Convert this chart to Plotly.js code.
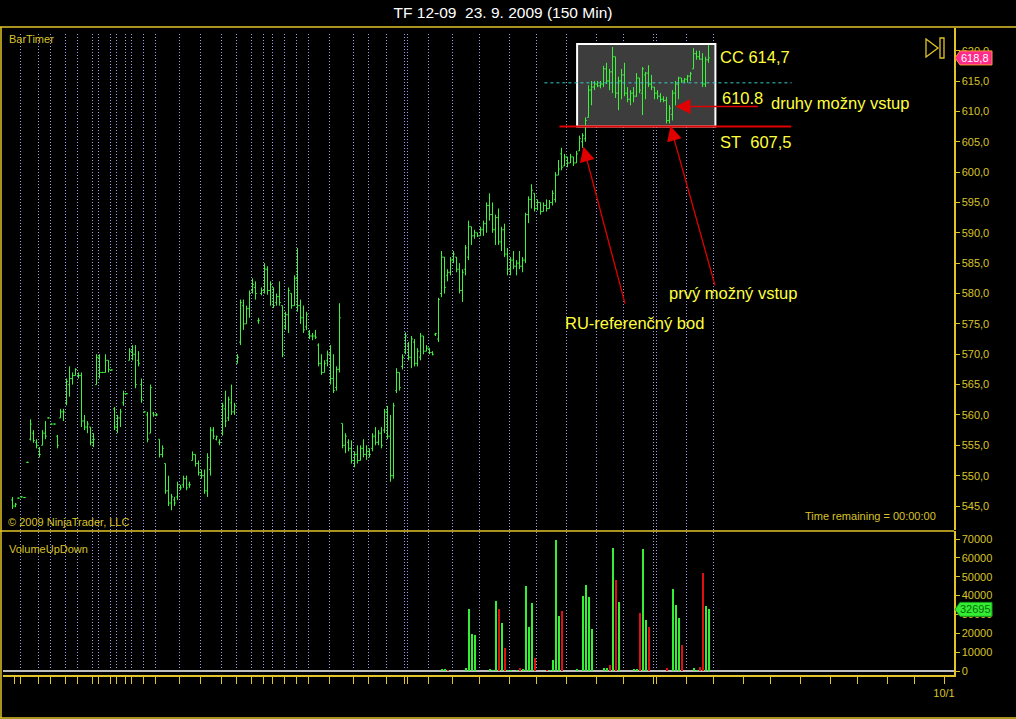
<!DOCTYPE html>
<html><head><meta charset="utf-8">
<script src="https://cdn.plot.ly/plotly-3.0.1.min.js"></script>
<style>html,body{margin:0;padding:0;background:#000;}#chart{width:1016px;height:719px;}</style>
</head><body><div id="chart"></div>
<script>
// ---------- DATA (150-min bars, TF 12-09) ----------
const openPx = [
546.0,545.0,546.3,546.5,546.4,552.2,556.0,557.0,555.5,554.5,
555.0,557.0,559.5,558.5,558.5,556.5,559.5,560.5,562.0,565.0,
566.0,566.5,566.5,566.5,559.0,558.0,558.0,555.5,565.0,569.5,
567.0,567.0,569.0,567.4,561.0,558.0,559.5,562.0,563.5,569.0,
570.5,570.0,569.0,565.0,560.5,560.0,557.0,560.3,560.0,556.0,
553.5,552.0,547.5,545.5,546.0,546.5,548.0,548.5,549.5,548.5,
552.5,553.5,552.0,550.5,550.0,547.5,551.0,557.5,556.0,555.5,
557.0,561.0,559.5,562.0,560.5,568.5,572.0,578.0,575.0,577.5,
580.5,581.0,575.5,580.0,580.5,584.0,580.5,581.0,578.5,579.5,
578.0,574.5,576.5,580.0,578.0,582.5,578.0,576.0,574.5,573.5,
573.0,573.0,571.5,568.5,567.0,569.0,570.0,566.0,564.5,567.5,
558.6,555.0,555.5,554.5,552.5,553.5,552.5,554.5,553.5,554.0,
554.5,556.5,555.5,557.0,557.5,560.5,556.5,550.0,564.0,567.0,
568.0,570.5,571.5,569.5,572.0,568.5,569.5,573.0,570.5,571.0,
570.3,573.3,572.5,580.0,586.0,583.0,583.5,585.5,586.0,584.0,
580.5,584.0,586.0,591.0,589.5,590.0,589.5,590.5,591.5,594.5,
593.0,590.5,592.5,588.5,590.5,586.5,584.0,585.5,584.5,585.0,
584.5,585.5,593.0,595.5,596.5,594.0,595.0,593.5,594.5,594.0,
595.0,595.5,599.5,603.0,601.0,602.5,601.5,602.5,601.5,603.5,
605.0,605.5,609.0,613.5,614.0,614.5,614.2,614.5,617.0,615.0,
616.5,619.0,613.0,615.0,616.0,613.0,612.0,613.0,612.5,615.5,
613.0,616.0,616.3,614.5,614.0,613.0,612.5,612.0,611.8,608.5,
609.5,613.0,614.5,615.5,615.0,615.3,615.8,617.0,619.5,619.0,
618.6,614.5,618.5];
const highPx = [
546.5,545.5,546.4,546.6,546.5,552.3,559.3,557.5,556.0,554.7,
557.5,559.0,559.6,558.6,558.6,556.7,561.0,561.0,566.0,568.0,
567.0,567.7,567.0,567.0,560.0,559.0,558.0,557.0,570.0,570.0,
567.1,570.0,569.0,567.5,561.3,560.0,561.0,564.0,563.6,571.0,
571.5,571.5,570.5,566.0,560.6,560.5,565.0,560.5,560.3,556.0,
555.0,552.0,550.0,547.0,546.5,549.0,548.5,550.0,550.0,549.0,
554.0,553.5,552.5,551.0,551.0,553.7,558.0,558.0,556.6,556.0,
562.0,564.0,563.0,565.0,562.0,570.0,579.0,579.0,578.0,580.5,
582.5,582.0,576.0,581.0,585.0,584.5,582.0,581.0,580.0,582.0,
578.0,577.0,581.0,580.0,583.0,587.5,579.0,578.0,577.0,574.0,
573.5,574.0,571.8,570.0,569.0,570.6,571.5,570.0,568.0,578.4,
558.6,557.0,556.0,555.8,554.0,555.0,555.0,556.0,555.0,554.5,
557.0,558.0,557.5,558.0,561.0,561.5,560.0,562.0,567.7,567.0,
570.0,573.6,572.0,573.0,572.5,571.0,573.5,573.0,571.5,571.0,
570.5,573.5,579.3,587.0,586.0,584.0,586.0,587.0,586.0,585.0,
584.0,588.0,592.0,591.0,590.5,590.0,591.0,592.0,595.0,596.5,
595.0,593.0,594.0,591.0,591.5,587.5,586.0,587.0,585.5,587.0,
586.0,593.3,596.0,598.0,596.5,595.5,595.0,595.0,595.5,595.4,
597.0,600.0,602.0,604.0,603.0,602.5,603.0,602.5,603.5,606.0,
606.4,609.0,614.3,615.0,615.0,615.0,615.0,617.5,618.0,617.0,
620.6,619.0,615.7,617.0,618.0,614.0,613.5,614.0,616.3,615.5,
617.3,616.5,617.6,616.0,614.0,613.5,613.0,612.5,612.4,611.0,
613.5,615.0,615.7,615.5,615.5,616.0,616.5,620.4,620.0,620.0,
619.6,619.0,621.0];
const lowPx = [
544.5,544.8,546.2,546.4,546.3,552.1,555.8,555.4,554.5,553.0,
555.0,556.0,559.4,558.4,558.4,554.5,559.5,559.0,561.6,563.0,
565.0,566.5,566.0,558.0,557.5,557.0,555.0,554.7,565.0,566.0,
566.9,567.0,567.0,567.3,557.5,557.0,558.0,561.5,563.4,569.0,
569.0,564.4,568.0,562.0,560.4,555.5,557.0,559.7,559.8,553.0,
553.0,547.0,545.0,544.3,545.0,546.0,547.6,548.0,547.6,548.0,
552.5,551.5,550.0,549.5,547.0,546.5,550.0,556.0,555.8,555.0,
556.6,558.0,559.0,560.0,560.0,568.5,571.5,574.0,575.0,576.0,
580.0,579.0,575.0,579.7,580.0,579.8,578.0,577.6,578.0,578.0,
569.5,574.0,573.5,577.5,578.0,577.0,575.0,573.5,574.0,572.5,
572.3,572.5,568.0,566.6,567.0,568.0,565.0,563.6,564.0,567.0,
554.5,553.7,554.0,552.0,551.4,552.0,552.5,553.0,552.6,553.0,
554.0,555.0,555.0,554.5,557.0,556.0,549.0,549.5,563.6,564.0,
567.5,570.0,569.0,567.7,568.0,568.0,569.0,570.0,570.5,570.0,
569.8,573.0,572.0,579.4,580.0,582.0,583.0,585.0,583.5,580.0,
578.6,583.0,585.5,588.0,589.0,589.3,589.5,589.5,590.0,592.0,
590.0,588.0,588.0,587.0,586.0,583.0,583.0,584.0,583.0,584.0,
583.5,585.0,591.6,594.0,593.5,593.7,593.0,593.5,593.5,594.0,
594.5,595.0,599.5,600.3,601.0,600.8,601.5,601.0,601.5,603.5,
604.0,605.0,609.0,611.0,613.5,614.0,613.8,614.0,614.5,613.5,
613.0,612.2,610.2,612.0,612.5,611.5,611.0,611.5,612.4,613.0,
609.4,612.0,614.0,613.5,612.0,612.0,611.5,611.5,608.0,608.0,
608.5,611.0,612.0,614.7,614.7,614.7,615.0,617.0,618.5,618.5,
614.0,614.0,618.0];
const closePx = [
545.0,545.3,546.3,546.5,546.4,552.2,558.5,555.8,555.0,553.5,
557.0,556.5,559.5,558.5,558.5,555.0,560.5,560.5,565.5,566.0,
566.5,567.5,566.5,559.0,558.0,558.5,555.5,556.0,569.5,567.0,
567.0,569.0,567.5,567.4,558.0,559.5,560.5,563.5,563.5,570.5,
570.0,565.0,568.5,562.5,560.5,556.0,564.5,560.0,560.0,553.5,
554.5,547.5,545.5,546.5,545.5,548.5,548.0,549.5,548.0,548.5,
553.5,552.0,550.5,550.0,547.5,553.0,557.5,556.5,556.4,555.5,
561.5,559.0,562.5,560.5,561.5,569.5,578.5,575.0,577.5,580.0,
581.5,580.0,575.6,580.5,584.0,580.5,581.5,578.0,579.5,578.5,
570.0,576.5,580.5,578.0,582.5,578.0,576.0,574.0,576.5,573.0,
573.0,572.8,568.5,567.0,568.5,570.0,566.0,564.0,567.5,576.0,
555.0,556.5,554.5,552.5,553.5,552.5,554.5,553.5,554.0,553.5,
556.5,555.5,557.0,555.0,560.5,556.5,550.0,561.5,567.0,564.5,
569.5,573.0,569.5,572.5,568.5,570.5,573.0,570.5,571.0,570.3,
570.0,573.4,579.0,586.0,581.0,583.5,585.5,586.5,584.0,580.5,
583.5,587.5,591.0,589.5,590.0,589.5,590.5,591.5,594.5,593.0,
590.5,592.5,588.5,590.5,586.5,584.0,585.5,584.5,585.0,584.5,
585.5,593.0,595.5,597.0,594.0,595.0,593.5,594.5,594.0,595.0,
596.5,599.5,600.5,600.8,602.5,601.5,602.5,601.5,603.0,605.5,
606.0,608.5,613.5,614.0,614.5,614.2,614.5,617.0,615.0,616.5,
619.0,613.0,615.0,616.0,613.0,612.0,613.0,612.5,615.5,613.5,
617.0,616.3,614.5,614.0,613.0,612.5,612.0,611.8,608.5,610.5,
613.0,614.5,615.5,615.0,615.3,615.8,616.2,619.5,619.0,618.6,
614.5,618.5,618.8];
const volume = [
0,0,0,0,0,0,0,0,0,0, 0,0,0,0,0,0,0,0,0,0,
0,0,0,0,0,0,0,0,0,0, 0,0,0,0,0,0,0,0,0,0,
0,0,0,0,0,0,0,0,0,0, 0,0,0,0,0,0,0,0,0,0,
0,0,0,0,0,0,0,0,0,0, 0,0,0,0,0,0,0,0,0,0,
0,0,0,0,0,0,0,0,0,0, 0,0,0,0,0,0,0,0,0,0,
0,0,0,0,0,0,0,0,0,0, 0,0,0,0,0,0,0,0,0,0,
0,0,0,0,0,0,0,0,0,0, 0,0,0,0,0,0,0,0,0,0,
0,0,0,
800,800,500,0,0,0,0,0,1500,32800,
19500,19000,0,0,0,0,1000,500,37000,32800,
25500,12000,500,700,0,600,1500,800,45000,23500,
36000,7000,0,0,0,500,700,6000,69500,29000,
32000,0,0,0,0,800,0,40000,45500,39500,
22500,0,0,0,1500,1500,3000,65000,48000,36500,
0,0,0,0,800,800,30500,64500,27000,23500,
0,0,0,0,0,1500,0,43500,35000,28000,
14000,0,0,0,1500,500,2000,52000,34500,32695];
const downBars = [145,162,164,169,174,178,183,199,201,209,212,218,223,229,230];
const dayTicks = [0.5,2.5,8.5,12.5,17.5,21.5,26.5,28.5,32.5,34.5,37.5,39.5,43.5,47.5,55.5,62.5,69.5,74.5,79.5,83.5,
86.5,90.5,94.5,98.5,105.5,113.5,118.5,124.5,130.5,131.5,138.5,146.5,155.5,165.5,174.5,184.5,194.5,203.5,213.5,214.5,
224.5,233.5,243.5,252.5,262.5,272.5,281.5,291.5,300.5,310.5];
const lastDayLabel = '10/1';
const priceTicks = [545,550,555,560,565,570,575,580,585,590,595,600,605,610,615,620];
const volTicks = [0,10000,20000,30000,40000,50000,60000,70000];
const ccLevel = 614.7, stopLevel = 607.5, entryLevel = 610.8, boxHigh = 621.1;
const boxStartBar = 188.2, boxEndBar = 234.3;
const titleText = 'TF 12-09\u00a0\u00a023. 9. 2009 (150 Min)';

// ---------- helpers ----------
const W = 1016, H = 719, ML = 3, MR = 62, MT = 28, MB = 44;
const PW = W - ML - MR, PH = H - MT - MB;
const PX = x => (x - ML) / PW;
const PY = y => (H - MB - y) / PH;
const fmt = v => v.toFixed(1).replace('.', ',');
const FONT = 'Arial, "Liberation Sans", sans-serif';
const GOLD = '#e0c428', LBL = '#d8c22a', YEL = '#ffff3c';
const X0 = -3.1667, XSPAN = PW / 3;   // 3 px per bar, bars on half-pixels

const idx = openPx.map((_, i) => i);
const downSet = new Set(downBars);
const volUp = volume.map((v, i) => downSet.has(i) ? null : v);
const volDn = volume.map((v, i) => downSet.has(i) ? v : null);
const N = idx.length;
const lastClose = closePx[N - 1], lastVol = volume[N - 1];

const traces = [
  {type: 'ohlc', x: idx, open: openPx, high: highPx, low: lowPx, close: closePx,
   xaxis: 'x', yaxis: 'y', tickwidth: 0.45, hoverinfo: 'skip',
   increasing: {line: {color: '#3cf03c', width: 1}},
   decreasing: {line: {color: '#3cf03c', width: 1}}},
  {type: 'bar', x: idx, y: volUp, xaxis: 'x', yaxis: 'y2', width: 0.67,
   marker: {color: '#33f033', line: {width: 0}}, hoverinfo: 'skip'},
  {type: 'bar', x: idx, y: volDn, xaxis: 'x', yaxis: 'y2', width: 0.67,
   marker: {color: '#e01010', line: {width: 0}}, hoverinfo: 'skip'}
];

const shapes = [];
shapes.push({type: 'rect', xref: 'x', yref: 'y', x0: boxStartBar, x1: boxEndBar, y0: stopLevel, y1: boxHigh,
  fillcolor: '#3d3d3d', line: {width: 0}, layer: 'below'});
dayTicks.filter(t => t > 1 && t <= N + 1).forEach(t => shapes.push({type: 'line', xref: 'x', yref: 'paper',
  x0: t + 1 / 6, x1: t + 1 / 6, y0: PY(671), y1: PY(33),
  line: {color: 'rgba(175,175,255,0.9)', width: 1, dash: '1px,2px'}, layer: 'below'}));
shapes.push({type: 'rect', xref: 'x', yref: 'y', x0: boxStartBar, x1: boxEndBar, y0: stopLevel, y1: boxHigh,
  line: {color: '#ffffff', width: 2}, layer: 'above'});
shapes.push({type: 'line', xref: 'x', yref: 'y', x0: 177.3, x1: 259.7, y0: ccLevel, y1: ccLevel,
  line: {color: '#33cccc', width: 1, dash: 'dot'}});
shapes.push({type: 'line', xref: 'x', yref: 'y', x0: 182.3, x1: 259.6, y0: stopLevel, y1: stopLevel,
  line: {color: '#e00000', width: 2}});
const fr = {color: GOLD, width: 1.5};
shapes.push({type: 'line', xref: 'paper', yref: 'paper', x0: PX(0), x1: PX(1016), y0: PY(27), y1: PY(27), line: fr});
shapes.push({type: 'line', xref: 'paper', yref: 'paper', x0: PX(1), x1: PX(1), y0: PY(27), y1: PY(718), line: fr});
shapes.push({type: 'line', xref: 'paper', yref: 'paper', x0: PX(0), x1: PX(1016), y0: PY(718), y1: PY(718), line: fr});
shapes.push({type: 'line', xref: 'paper', yref: 'paper', x0: PX(0), x1: PX(954), y0: PY(531), y1: PY(531), line: fr});
shapes.push({type: 'path', xref: 'paper', yref: 'paper',
  path: `M ${PX(926)} ${PY(39)} L ${PX(938)} ${PY(48)} L ${PX(926)} ${PY(57)} Z`, line: {color: GOLD, width: 1.3}});
shapes.push({type: 'rect', xref: 'paper', yref: 'paper', x0: PX(940), x1: PX(944), y0: PY(38), y1: PY(58),
  line: {color: GOLD, width: 1.3}});
const tag = 'M 1 0 L 6 7 L 38 7 L 38 -7 L 6 -7 Z';
shapes.push({type: 'path', xref: 'paper', xsizemode: 'pixel', xanchor: 1, yref: 'y', ysizemode: 'pixel', yanchor: lastClose,
  path: tag, fillcolor: '#ff2a8a', line: {color: '#ff9a30', width: 1}, layer: 'above'});
shapes.push({type: 'path', xref: 'paper', xsizemode: 'pixel', xanchor: 1, yref: 'y2', ysizemode: 'pixel', yanchor: lastVol,
  path: tag, fillcolor: '#33ee33', line: {color: '#1a991a', width: 1}, layer: 'above'});

const txt = (x, y, text, size, color, xanchor, xref, yref) => ({x, y, text, xref: xref || 'x', yref: yref || 'y',
  showarrow: false, xanchor: xanchor || 'left', yanchor: 'middle', font: {family: FONT, size, color}});
const arrow = (x, y, ax, ay) => ({x, y, ax, ay, xref: 'x', yref: 'y', axref: 'x', ayref: 'y', text: '',
  showarrow: true, arrowhead: 2, arrowsize: 2.3, arrowwidth: 1.3, arrowcolor: '#e00000'});

const annotations = [
  arrow(190.3, 604.2, 204.3, 578.1),
  arrow(219.3, 607.6, 234.3, 581.1),
  arrow(221.0, entryLevel, 249.0, entryLevel),
  txt(235, 619.0, 'CC ' + fmt(ccLevel), 16.5, YEL),
  txt(235.7, 612.2, String(entryLevel), 16.5, YEL),
  txt(252.3, 611.4, 'druhy možny vstup', 16.5, YEL),
  txt(235, 605.0, 'ST\u00a0\u00a0' + fmt(stopLevel), 16.5, YEL),
  txt(207.3, 575.1, 'RU-referenčný bod', 16.5, YEL, 'center'),
  txt(240.3, 580.1, 'prvý možný vstup', 16.5, YEL, 'center'),
  txt(PX(7), PY(39), 'BarTimer', 11, LBL, 'left', 'paper', 'paper'),
  txt(PX(6), PY(522), '© 2009 NinjaTrader, LLC', 11, LBL, 'left', 'paper', 'paper'),
  txt(PX(938), PY(516), 'Time remaining = 00:00:00', 11, LBL, 'right', 'paper', 'paper'),
  txt(PX(7), PY(549), 'VolumeUpDown', 11, LBL, 'left', 'paper', 'paper'),
  txt(PX(975), lastClose, fmt(lastClose), 11, '#ffffff', 'center', 'paper', 'y'),
  txt(PX(975), lastVol, String(lastVol), 11, '#0a6a0a', 'center', 'paper', 'y2')
];

const axFont = {family: FONT, size: 11, color: LBL};
const layout = {
  width: W, height: H, margin: {l: ML, r: MR, t: MT, b: MB},
  paper_bgcolor: '#000', plot_bgcolor: '#000', showlegend: false, barmode: 'overlay', bargap: 0,
  title: {text: titleText, xref: 'container', yref: 'container', x: 503 / W, y: 1 - 13 / H,
    xanchor: 'center', yanchor: 'middle', font: {family: FONT, size: 15.5, color: '#ffffff'}},
  xaxis: {anchor: 'y2', range: [X0, X0 + XSPAN], tickvals: dayTicks,
    ticktext: dayTicks.map((t, i) => i === dayTicks.length - 1 ? lastDayLabel : ''),
    ticks: 'outside', ticklen: 7, tickcolor: GOLD, tickwidth: 1, tickfont: axFont,
    showgrid: false, zeroline: false, showline: true, linecolor: GOLD, linewidth: 1.5,
    rangeslider: {visible: false}, fixedrange: true},
  yaxis: {domain: [PY(530), 1], anchor: 'x', side: 'right', range: [541.05, 623.73],
    tickvals: priceTicks, ticktext: priceTicks.map(fmt), ticks: 'outside', ticklen: 4,
    tickcolor: GOLD, tickfont: axFont, showgrid: false, zeroline: false,
    showline: true, linecolor: GOLD, linewidth: 1.5, fixedrange: true},
  yaxis2: {domain: [0, PY(531)], anchor: 'x', side: 'right', range: [-2121, 74242],
    tickvals: volTicks, ticktext: volTicks.map(String), ticks: 'outside', ticklen: 4,
    tickcolor: GOLD, tickfont: axFont, showgrid: false, zeroline: true, zerolinecolor: '#bdbdbd',
    zerolinewidth: 1.5, showline: true, linecolor: GOLD, linewidth: 1.5, fixedrange: true},
  shapes, annotations
};
Plotly.newPlot('chart', traces, layout, {displayModeBar: false, staticPlot: true});
</script></body></html>
